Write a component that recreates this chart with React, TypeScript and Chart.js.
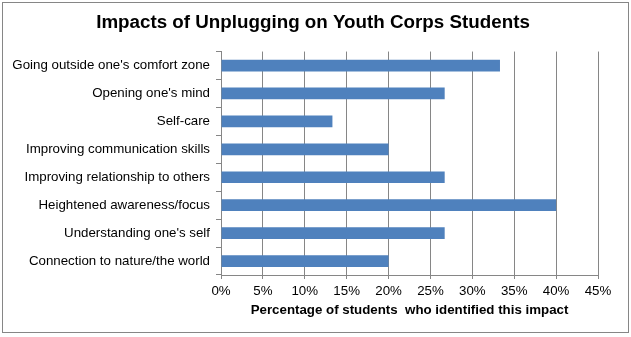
import React, { useEffect, useRef } from "react";
import { Chart, registerables } from "chart.js";

Chart.register(...registerables);

const chartTitle = "Impacts of Unplugging on Youth Corps Students";
const axisTitle = "Percentage of students  who identified this impact";
const categories = [
  "Going outside one's comfort zone",
  "Opening one's mind",
  "Self-care",
  "Improving communication skills",
  "Improving relationship to others",
  "Heightened awareness/focus",
  "Understanding one's self",
  "Connection to nature/the world",
];
const percentages = [33.3, 26.7, 13.3, 20.0, 26.7, 40.0, 26.7, 20.0];
const xTicks = [0, 5, 10, 15, 20, 25, 30, 35, 40, 45];

const FONT = "'Liberation Sans', Arial, sans-serif";
const GRID = "#868686";
const PAD_LEFT = -5;

export default function App() {
  const ref = useRef<HTMLCanvasElement | null>(null);
  useEffect(() => {
    if (!ref.current) return;
    const chart = new Chart(ref.current, {
      type: "bar",
      data: {
        labels: categories,
        datasets: [
          {
            data: percentages,
            backgroundColor: "#4F81BD",
            borderWidth: 0,
            barPercentage: 0.42,
            categoryPercentage: 1,
          },
        ],
      },
      options: {
        indexAxis: "y",
        responsive: false,
        animation: false,
        layout: { padding: { top: 0, left: PAD_LEFT, right: 0, bottom: 12 } },
        plugins: {
          legend: { display: false },
          tooltip: { enabled: false },
          title: {
            display: true,
            text: chartTitle,
            color: "#000",
            font: { family: FONT, size: 18.8, weight: "bold" },
            padding: { top: 12, bottom: 17 },
          },
        },
        scales: {
          x: {
            min: 0,
            max: 45,
            afterBuildTicks: (s: any) => {
              s.ticks = xTicks.map((v) => ({ value: v }));
            },
            afterFit: (s: any) => {
              s.height = 50;
            },
            ticks: {
              color: "#000",
              font: { family: FONT, size: 13.3 },
              padding: 4,
              maxRotation: 0,
              callback: (v: any) => v + "%",
            },
            grid: { color: GRID, lineWidth: 1, tickLength: 4, drawTicks: true },
            border: { display: true, color: GRID },
            title: {
              display: true,
              text: axisTitle,
              color: "#000",
              font: { family: FONT, size: 13.3, weight: "bold" },
              padding: { top: 0, bottom: 7 },
            },
          },
          y: {
            afterFit: (s: any) => {
              s.width = 221 - PAD_LEFT;
            },
            ticks: {
              color: "#000",
              font: { family: FONT, size: 13.3 },
              padding: 6,
              autoSkip: false,
            },
            grid: {
              offset: true,
              drawOnChartArea: false,
              drawTicks: true,
              tickLength: 5,
              color: GRID,
            },
            border: { display: true, color: GRID },
          },
          yRight: {
            type: "linear",
            position: "right",
            display: true,
            afterFit: (s: any) => {
              s.width = 33;
            },
            ticks: { display: false },
            grid: { display: false },
            border: { display: false },
          },
        },
      },
    });
    return () => chart.destroy();
  }, []);

  return (
    <div style={{ position: "fixed", left: 0, top: 0, width: 631, height: 337, background: "#fff" }}>
      <div
        style={{
          position: "absolute",
          left: 2,
          top: 2,
          width: 627,
          height: 331,
          boxSizing: "border-box",
          border: "1px solid #868686",
        }}
      />
      <canvas ref={ref} width={631} height={337} style={{ position: "absolute", left: 0, top: 0 }} />
    </div>
  );
}
